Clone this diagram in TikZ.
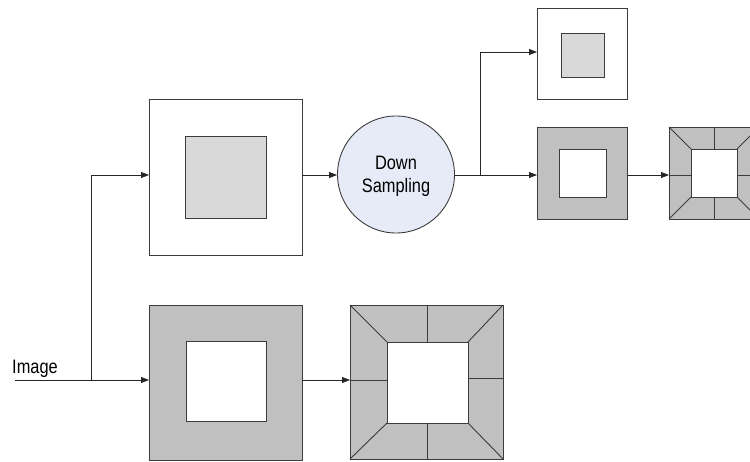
\documentclass[tikz,border=0pt]{standalone}
\usepackage{fontspec}
\setmainfont{Liberation Sans}[FakeStretch=0.84]
\usetikzlibrary{arrows.meta,calc}
\definecolor{ringgrey}{RGB}{192,192,192}
\definecolor{coregrey}{RGB}{217,217,217}
\definecolor{circfill}{RGB}{231,235,247}
\definecolor{edgec}{RGB}{60,60,60}
\tikzset{
  box/.style={draw=edgec, line width=0.9pt, anchor=north west, inner sep=0pt, outer sep=0pt},
  conn/.style={draw=black!85, line width=0.8pt},
  arr/.style={conn, -{Triangle[length=8pt,width=6pt]}},
  lbl/.style={font=\fontsize{19.5}{21}\selectfont, inner sep=0pt},
  seg/.style={draw=edgec, line width=0.9pt}
}
\begin{document}
\begin{tikzpicture}[x=1pt,y=-1pt]
\useasboundingbox (0,0) rectangle (750,461);

% Box A (white with grey core)
\node[box, fill=white, minimum width=153pt, minimum height=156pt] (A) at (149,99) {};
\node[box, fill=coregrey, minimum width=81pt, minimum height=82pt] (Ain) at (185,136) {};

% Box B (grey ring)
\node[box, fill=ringgrey, minimum width=153pt, minimum height=155pt] (B) at (149,305) {};
\node[box, fill=white, minimum width=80pt, minimum height=80pt] (Bin) at (186,341) {};

% Box C (segmented)
\node[box, fill=ringgrey, minimum width=153pt, minimum height=154pt] (C) at (350,305) {};
\node[box, fill=white, minimum width=81pt, minimum height=81pt] (Cin) at (387,342) {};
\draw[seg] (C.north west) -- (Cin.north west);
\draw[seg] (C.north east) -- (Cin.north east);
\draw[seg] (C.south west) -- (Cin.south west);
\draw[seg] (C.south east) -- (Cin.south east);
\draw[seg] (Cin.north |- C.north) -- (Cin.north);
\draw[seg] (Cin.south |- C.south) -- (Cin.south);
\draw[seg] (C.west |- 0,380) -- (Cin.west |- 0,380);
\draw[seg] (C.east |- 0,378) -- (Cin.east |- 0,378);

% Circle
\node[circle, draw=edgec, line width=0.9pt, fill=circfill, minimum size=117pt, inner sep=0pt] (DS) at (396,174.5) {};
\node[lbl] (DStxt1) at (396,163) {Down};
\node[lbl] (DStxt2) at (396,187) {Sampling};

% Box E (top right small, white with grey core)
\node[box, fill=white, minimum width=90pt, minimum height=91pt] (E) at (537,8) {};
\node[box, fill=coregrey, minimum width=43pt, minimum height=44pt] (Ein) at (561,33) {};

% Box D (grey ring small)
\node[box, fill=ringgrey, minimum width=90pt, minimum height=92pt] (D) at (537,127) {};
\node[box, fill=white, minimum width=47pt, minimum height=48pt] (Din) at (559,149) {};

% Box F (segmented small, cut off at right)
\node[box, fill=ringgrey, minimum width=90pt, minimum height=92pt] (F) at (669,127) {};
\node[box, fill=white, minimum width=46pt, minimum height=48pt] (Fin) at (691,149) {};
\draw[seg] (F.north west) -- (Fin.north west);
\draw[seg] (F.north east) -- (Fin.north east);
\draw[seg] (F.south west) -- (Fin.south west);
\draw[seg] (F.south east) -- (Fin.south east);
\draw[seg] (Fin.north |- F.north) -- (Fin.north);
\draw[seg] (Fin.south |- F.south) -- (Fin.south);
\draw[seg] (F.west |- 0,175) -- (Fin.west |- 0,175);
\draw[seg] (F.east |- 0,175) -- (Fin.east |- 0,175);

% Input label and connectors
\node[lbl, anchor=base west] (img) at (12,373) {Image};
\coordinate (start) at (15,380);
\coordinate (j1) at (91,380);
\draw[arr] (start) -- (B.west |- start);
\draw[arr] (j1) |- (A.west |- 0,175);
\draw[arr] (A.east |- 0,175) -- (DS.west |- 0,175);
\coordinate (j2) at (480,175);
\draw[arr] (DS.east |- 0,175) -- (D.west |- 0,175);
\draw[arr] (j2) |- (E.west |- 0,52);
\draw[arr] (D.east |- 0,175) -- (F.west |- 0,175);
\draw[arr] (B.east |- start) -- (C.west |- start);
\end{tikzpicture}
\end{document}
